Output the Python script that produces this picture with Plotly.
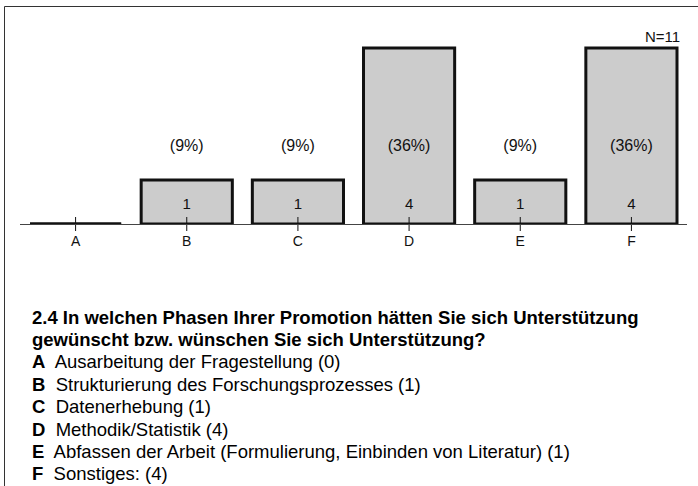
import plotly.graph_objects as go

# Daten
kategorien = ["A", "B", "C", "D", "E", "F"]
anzahl = [0, 1, 1, 4, 1, 4]
beschreibungen = [
    "Ausarbeitung der Fragestellung",
    "Strukturierung des Forschungsprozesses",
    "Datenerhebung",
    "Methodik/Statistik",
    "Abfassen der Arbeit (Formulierung, Einbinden von Literatur)",
    "Sonstiges:",
]
frage = ["2.4 In welchen Phasen Ihrer Promotion hätten Sie sich Unterstützung",
         "gewünscht bzw. wünschen Sie sich Unterstützung?"]

N = sum(anzahl)
prozent = ["(%d%%)" % round(100 * a / N) for a in anzahl]
idx = list(range(len(kategorien)))

W, H = 698, 486
ML, MR, MT, MB = 20, 11, 24, 262
PW, PH = W - ML - MR, H - MT - MB
FONT = "Liberation Sans, Arial, sans-serif"
BAR_W = 0.82


def px_x(x):
    return (x - ML) / PW


def px_y(y):
    return (H - MB - y) / PH


fig = go.Figure()

fig.add_trace(go.Bar(
    x=idx, y=anzahl, width=BAR_W,
    marker=dict(color="#cccccc", line=dict(color="#111111", width=3)),
    hoverinfo="skip",
))

# Null-Balken als dicke Linie
for i, a in zip(idx, anzahl):
    if a == 0:
        fig.add_trace(go.Scatter(
            x=[i - BAR_W / 2, i + BAR_W / 2], y=[0, 0], mode="lines",
            line=dict(color="#111111", width=3), hoverinfo="skip",
        ))

# Teilstriche, die die Achse kreuzen
fig.add_trace(go.Scatter(
    x=idx, y=[0] * len(idx), mode="markers",
    marker=dict(symbol="line-ns", size=10, line=dict(color="#111111", width=1)),
    hoverinfo="skip", cliponaxis=False,
))

mit_wert = [i for i, a in zip(idx, anzahl) if a > 0]

# Prozentwerte
fig.add_trace(go.Scatter(
    x=mit_wert, y=[1.75] * len(mit_wert),
    text=[prozent[i] for i in mit_wert],
    mode="text", textfont=dict(size=16, color="#111111", family=FONT),
    hoverinfo="skip",
))

# Anzahl
fig.add_trace(go.Scatter(
    x=mit_wert, y=[0.43] * len(mit_wert),
    text=[str(anzahl[i]) for i in mit_wert],
    mode="text", textfont=dict(size=15, color="#111111", family=FONT),
    hoverinfo="skip",
))

annotations = [dict(
    text="N=%d" % N, x=px_x(682), y=px_y(37), xref="paper", yref="paper",
    xanchor="right", yanchor="middle", showarrow=False,
    font=dict(size=15, color="#111111", family=FONT),
)]

zeilen = ["<b>%s</b>" % frage[0], "<b>%s</b>" % frage[1]]
zeilen += ["<b>%s</b>  %s (%d)" % (k, b, a)
           for k, b, a in zip(kategorien, beschreibungen, anzahl)]
for j, z in enumerate(zeilen):
    annotations.append(dict(
        text=z, x=px_x(30), y=px_y(317 + 22.4 * j), xref="paper", yref="paper",
        xanchor="left", yanchor="middle", showarrow=False,
        font=dict(size=18.5, color="#000000", family=FONT),
    ))

# Rahmen (links und oben)
shapes = [
    dict(type="line", xref="paper", yref="paper",
         x0=px_x(4.5), x1=px_x(4.5), y0=px_y(6.5), y1=px_y(500),
         line=dict(color="#333333", width=1)),
    dict(type="line", xref="paper", yref="paper",
         x0=px_x(4.5), x1=px_x(710), y0=px_y(6.5), y1=px_y(6.5),
         line=dict(color="#333333", width=1)),
]

fig.update_layout(
    width=W, height=H,
    margin=dict(l=ML, r=MR, t=MT, b=MB),
    paper_bgcolor="white", plot_bgcolor="white",
    showlegend=False,
    xaxis=dict(
        range=[-0.5, len(kategorien) - 0.5],
        tickvals=idx, ticktext=kategorien,
        showline=True, linecolor="#444444", linewidth=1,
        ticks="", ticklabelstandoff=4, showgrid=False, zeroline=False,
        tickfont=dict(size=14, color="#111111", family=FONT),
    ),
    yaxis=dict(
        range=[0, PH / 44], visible=False, showgrid=False, zeroline=False,
    ),
    annotations=annotations,
    shapes=shapes,
)

fig.write_html("out.html", config={"displayModeBar": False},
               post_script="document.body.style.margin='0';")
